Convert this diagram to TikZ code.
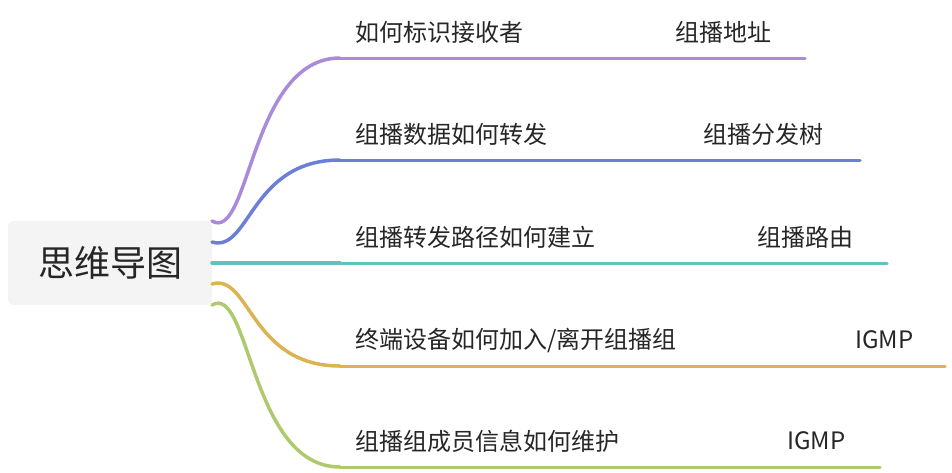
\documentclass[tikz,border=0pt]{standalone}
\usepackage{fontspec}
\setmainfont{Noto Sans CJK SC}
\definecolor{c1}{HTML}{A98BD9}
\definecolor{c2}{HTML}{6B7FD7}
\definecolor{c3}{HTML}{5FC2C0}
\definecolor{c4}{HTML}{DDB253}
\definecolor{c5}{HTML}{AFCA6E}
\definecolor{rootbg}{HTML}{F4F4F4}
\begin{document}
\begin{tikzpicture}[x=1pt,y=-1pt,
  lbl/.style={anchor=west,font=\fontsize{24}{26}\selectfont,inner sep=0pt,text=black!85},
  br/.style={line width=3.5pt,line cap=round},
  leaf/.style={line width=3pt,line cap=round}]
\useasboundingbox (0,0) rectangle (952,472);
\node[fill=rootbg,rounded corners=6pt,minimum width=204pt,minimum height=84pt,font=\fontsize{36}{40}\selectfont,text=black!85] (root) at (110,263) {思维导图};
\foreach \i/\y/\e/\a/\b/\bx/\c in {1/58/805/{如何标识接收者}/{组播地址}/675/c1,2/160/860/{组播数据如何转发}/{组播分发树}/703/c2,3/263/887/{组播转发路径如何建立}/{组播路由}/757/c3,4/366/945/{终端设备如何加入/离开组播组}/{IGMP}/855/c4,5/467/880/{组播组成员信息如何维护}/{IGMP}/787/c5}{
  \coordinate (s\i) at (212,{263+(\i-3)*21});
  \coordinate (m\i) at (340,\y);
  \coordinate (e\i) at (\e,\y);
  \node[lbl] (t\i) at (355,\y-26) {\a};
  \node[lbl] (u\i) at (\bx,\y-26) {\b};
  \draw[br,\c] (s\i) .. controls (250,{263+(\i-3)*10}) and (250,\y) .. (m\i);
  \draw[leaf,\c] (m\i) -- (e\i);
}
\end{tikzpicture}
\end{document}
